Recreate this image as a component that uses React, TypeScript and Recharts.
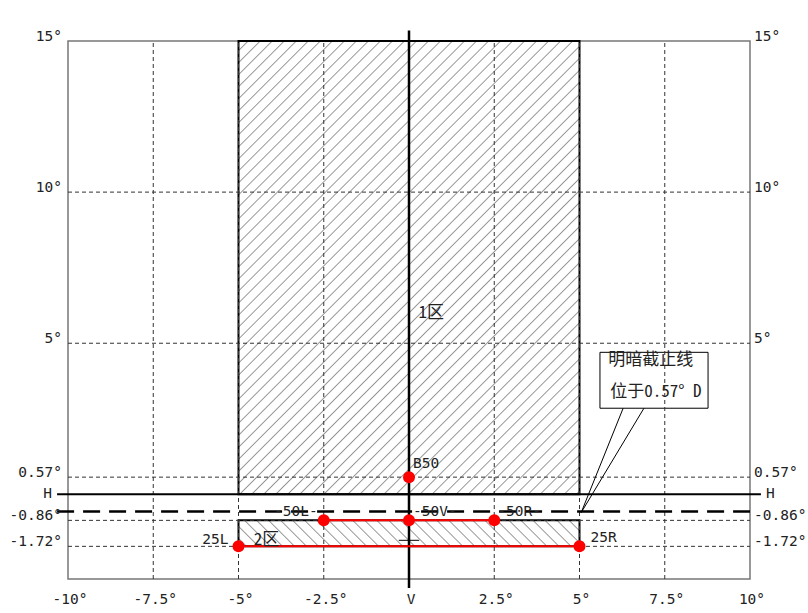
import React from 'react';
import {
  ComposedChart,
  XAxis,
  YAxis,
  Scatter,
  ReferenceLine,
  ReferenceArea,
} from 'recharts';

const FONT = "'DejaVu Sans Mono', 'Noto Sans Mono CJK SC', monospace";
const CJK_FONT = "'Noto Sans Mono CJK SC', 'Noto Sans CJK SC', monospace";
const FS = 14.5;

// axes (degrees)
const xTicks = [-10, -7.5, -5, -2.5, 0, 2.5, 5, 7.5, 10];
const yTicks = [15, 10, 5, 0.57, 0, -0.86, -1.72];
const xDomain = [-10, 10];
const yDomain = [-2.8, 15];

// dashed grid
const gridX = [-7.5, -5, -2.5, 2.5, 5, 7.5];
const gridY = [10, 5, 0.57, -0.86, -1.72];

// cut-off line at 0.57 D
const cutoffY = -0.57;

// zones
const zone1 = { x1: -5, x2: 5, y1: 0, y2: 15 };
const zone2 = { x1: -5, x2: 5, y1: -1.72, y2: -0.86 };

// test points
const pointB50 = [{ x: 0, y: 0.57, name: 'B50' }];
const points50 = [
  { x: -2.5, y: -0.86, name: '-50L-' },
  { x: 0, y: -0.86, name: '-50V-' },
  { x: 2.5, y: -0.86, name: '-50R-' },
];
const points25 = [
  { x: -5, y: -1.72, name: '25L' },
  { x: 5, y: -1.72, name: '25R' },
];

// free text
const notes = [
  { x: 0.65, y: 6.1, text: '1区', anchor: 'middle', cjk: true },
  { x: -4.55, y: -1.69, text: '2区', anchor: 'start', cjk: true },
  { x: 0, y: 15.8, text: 'V', anchor: 'middle', cjk: false },
  { x: 5.84, y: 4.27, text: '明暗截止线', anchor: 'start', cjk: true },
  { x: 5.9, y: 3.21, text: '位于0.57° D', anchor: 'start', cjk: true },
];

// callout
const calloutBox = { x1: 5.6, x2: 8.77, y1: 2.85, y2: 4.7 };
const calloutTip = { x: 5.05, y: -0.6 };
const calloutFeet = [6.28, 6.89];

// label placement per point
const labelPos: Record<string, { dx: number; dy: number; anchor: string }> = {
  B50: { dx: 4, dy: -9, anchor: 'start' },
  '-50L-': { dx: -6, dy: -4, anchor: 'end' },
  '-50V-': { dx: 4, dy: -4, anchor: 'start' },
  '-50R-': { dx: 3, dy: -4, anchor: 'start' },
  '25L': { dx: -10, dy: -2, anchor: 'end' },
  '25R': { dx: 11, dy: -4, anchor: 'start' },
};

const fmt = (v: number) => (v === 0 ? 'H' : `${v}°`);

const LeftTick = ({ x, y, payload }: any) => {
  const v = payload.value;
  return (
    <text
      x={v === 0 ? x - 10 : x}
      y={v === 0 ? y - 1 : y - 5}
      textAnchor="end"
      dominantBaseline="central"
      fontFamily={FONT}
      fontSize={FS}
      fill="#222"
    >
      {fmt(v)}
    </text>
  );
};

const RightTick = ({ x, y, payload }: any) => {
  const v = payload.value;
  return (
    <text
      x={v === 0 ? x + 10 : x - 2}
      y={v === 0 ? y - 1 : y - 5}
      textAnchor="start"
      dominantBaseline="central"
      fontFamily={FONT}
      fontSize={FS}
      fill="#222"
    >
      {fmt(v)}
    </text>
  );
};

const BottomTick = ({ x, y, payload }: any) => {
  const v = payload.value;
  return (
    <text
      x={x + 2}
      y={y + 14}
      textAnchor="middle"
      dominantBaseline="central"
      fontFamily={FONT}
      fontSize={FS}
      fill="#222"
    >
      {v === 0 ? 'V' : `${v}°`}
    </text>
  );
};

const RedDot = (props: any) => {
  const { cx, cy, payload } = props;
  const p = labelPos[payload.name];
  return (
    <g>
      <circle cx={cx} cy={cy} r={6} fill="#ff0000" />
      <text
        x={cx + p.dx}
        y={cy + p.dy}
        textAnchor={p.anchor}
        fontFamily={FONT}
        fontSize={FS}
        fill="#222"
      >
        {payload.name}
      </text>
    </g>
  );
};

const NoteText = (props: any) => {
  const { cx, cy, payload } = props;
  return (
    <text
      x={cx}
      y={cy}
      textAnchor={payload.anchor}
      dominantBaseline={payload.anchor === 'middle' ? 'central' : 'auto'}
      fontFamily={payload.cjk ? CJK_FONT : FONT}
      fontSize={payload.cjk ? 17 : FS}
      fill="#222"
    >
      {payload.text}
    </text>
  );
};

const dash = { stroke: '#333', strokeWidth: 1, strokeDasharray: '4 3' };

export default function App() {
  return (
    <div style={{ position: 'absolute', left: 0, top: 0, background: '#fff' }}>
      <ComposedChart
        width={808}
        height={613}
        margin={{ top: 41, right: 0, bottom: 0, left: 0 }}
      >
        <defs>
          <pattern id="hatch1" width="8.5" height="8.5" patternUnits="userSpaceOnUse" patternTransform="rotate(45)">
            <line x1="0" y1="0" x2="0" y2="8.5" stroke="#333" strokeWidth="1" />
          </pattern>
          <pattern id="hatch2" width="8.5" height="8.5" patternUnits="userSpaceOnUse" patternTransform="rotate(-45)">
            <line x1="0" y1="0" x2="0" y2="8.5" stroke="#333" strokeWidth="1" />
          </pattern>
        </defs>
        <XAxis
          type="number"
          dataKey="x"
          domain={xDomain}
          ticks={xTicks}
          interval={0}
          allowDataOverflow
          axisLine={false}
          tickLine={false}
          tickSize={4}
          tickMargin={2}
          height={34}
          tick={<BottomTick />}
        />
        <YAxis
          type="number"
          dataKey="y"
          domain={yDomain}
          ticks={yTicks}
          interval={0}
          allowDataOverflow
          axisLine={false}
          tickLine={false}
          tickSize={4}
          tickMargin={2}
          width={68}
          tick={<LeftTick />}
        />
        <YAxis
          yAxisId="r"
          orientation="right"
          type="number"
          dataKey="y"
          domain={yDomain}
          ticks={yTicks}
          interval={0}
          allowDataOverflow
          axisLine={false}
          tickLine={false}
          tickSize={4}
          tickMargin={2}
          width={58}
          tick={<RightTick />}
        />

        {/* plot frame */}
        <ReferenceArea x1={xDomain[0]} x2={xDomain[1]} y1={yDomain[0]} y2={yDomain[1]} fill="none" stroke="#777" strokeWidth={1.5} />

        {/* zones */}
        <ReferenceArea {...zone1} fill="url(#hatch1)" fillOpacity={1} stroke="#000" strokeWidth={2} />
        <ReferenceArea {...zone2} fill="url(#hatch2)" fillOpacity={1} stroke="#000" strokeWidth={2} />

        {/* dashed grid */}
        {gridX.map((v) => (
          <ReferenceLine key={`gx${v}`} x={v} {...dash} />
        ))}
        {gridY.map((v) => (
          <ReferenceLine key={`gy${v}`} y={v} {...dash} />
        ))}

        {/* H / V axes and cut-off */}
        <ReferenceLine
          segment={[{ x: -10.32, y: 0 }, { x: 10.32, y: 0 }]}
          stroke="#000"
          strokeWidth={2}
          ifOverflow="visible"
        />
        <ReferenceLine
          segment={[{ x: 0, y: 15.35 }, { x: 0, y: -3.1 }]}
          stroke="#000"
          strokeWidth={2.5}
          ifOverflow="visible"
        />
        <ReferenceLine
          segment={[{ x: -10.32, y: cutoffY }, { x: 10, y: cutoffY }]}
          stroke="#000"
          strokeWidth={2.5}
          strokeDasharray="17 9"
          ifOverflow="visible"
        />
        <ReferenceLine
          segment={[{ x: -0.3, y: -1.52 }, { x: 0.3, y: -1.52 }]}
          stroke="#000"
          strokeWidth={1}
        />

        {/* callout */}
        <ReferenceArea {...calloutBox} fill="#fff" fillOpacity={1} stroke="#000" strokeWidth={1} />
        {calloutFeet.map((fx) => (
          <ReferenceLine
            key={`cf${fx}`}
            segment={[{ x: fx, y: calloutBox.y1 }, calloutTip]}
            stroke="#000"
            strokeWidth={1}
          />
        ))}

        {/* test points */}
        <Scatter data={points25} line={{ stroke: '#ff0000', strokeWidth: 2 }} shape={<RedDot />} isAnimationActive={false} />
        <Scatter data={points50} line={{ stroke: '#ff0000', strokeWidth: 2 }} shape={<RedDot />} isAnimationActive={false} />
        <Scatter data={pointB50} shape={<RedDot />} isAnimationActive={false} />
        <Scatter data={notes} shape={<NoteText />} isAnimationActive={false} />
      </ComposedChart>
    </div>
  );
}
